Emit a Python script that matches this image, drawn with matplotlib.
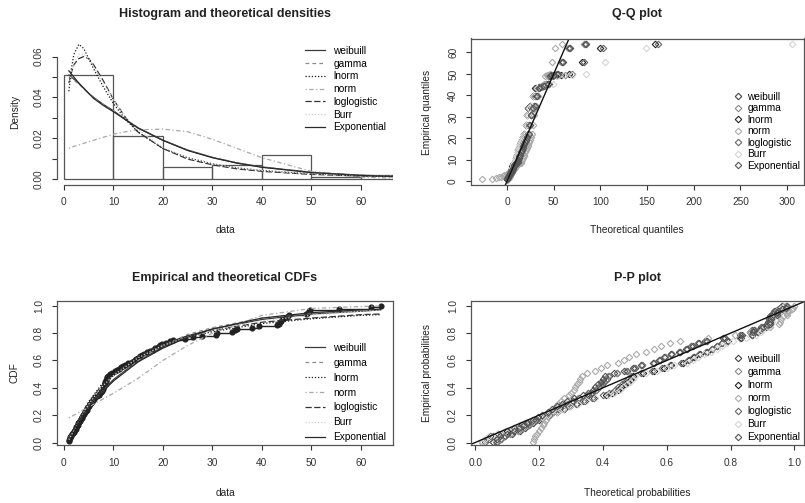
import numpy as np
import matplotlib.pyplot as plt
from matplotlib.lines import Line2D

plt.rcParams['font.family'] = ['Liberation Sans', 'DejaVu Sans']

W, H = 805, 503

data = [1.0, 1.1, 1.2, 1.3, 1.4, 1.6, 1.8, 2.0, 2.2, 2.4,
        2.5, 2.7, 2.8, 2.9, 3.0, 3.2, 3.4, 3.6, 3.7, 3.9,
        4.0, 4.2, 4.4, 4.6, 4.7, 4.9, 5.0, 5.2, 5.4, 5.6,
        5.8, 6.0, 6.3, 6.6, 7.0, 7.2, 7.4, 7.6, 7.8, 7.9,
        8.0, 8.2, 8.3, 8.4, 8.5, 8.6, 8.7, 8.8, 8.9, 9.3,
        9.7, 10.3, 10.7, 11.2, 11.6, 12.0, 12.4, 13.0, 13.8, 14.3,
        14.6, 14.9, 15.3, 15.8, 16.2, 16.8, 17.4, 18.0, 18.5, 19.0,
        19.4, 19.8, 20.6, 21.4, 22.0, 24.5, 26.0, 28.0, 30.8, 31.0,
        34.0, 34.5, 35.0, 38.0, 39.5, 43.0, 43.4, 43.6, 43.8, 44.0,
        44.5, 45.0, 45.5, 49.0, 49.3, 49.5, 49.8, 55.5, 62.0, 64.0]
hist_breaks = [0, 10, 20, 30, 40, 50, 60, 70]

dist_names = ["weibuill", "gamma", "lnorm", "norm", "loglogistic", "Burr", "Exponential"]
line_colors = ["#3a3a3a", "#8c8c8c", "#1a1a1a", "#a8a8a8", "#333333", "#cfcfcf", "#2a2a2a"]
point_colors = ["#444444", "#8a8a8a", "#222222", "#aaaaaa", "#666666", "#d4d4d4", "#555555"]
line_dashes = [None, (3, 2.5), (1, 1.5), (1, 2, 3.5, 2), (5, 2), (1, 1.5), None]

# density curves
dens_x = [1, 1.5, 2, 3, 4, 5, 6, 8, 10, 12.5, 15, 20, 25, 30, 35, 40, 50, 60, 66.5]
dens_weibull = [0.051, 0.050, 0.049, 0.047, 0.0445, 0.042, 0.040, 0.0365, 0.0335, 0.029, 0.025, 0.019,
                0.0142, 0.0106, 0.0079, 0.0059, 0.0033, 0.0019, 0.0014]
dens_gamma = [0.050, 0.0495, 0.0485, 0.0465, 0.0443, 0.042, 0.040, 0.0365, 0.0335, 0.0292, 0.0252, 0.0191,
              0.0143, 0.0107, 0.008, 0.006, 0.0034, 0.0019, 0.0014]
dens_lnorm = [0.043, 0.054, 0.061, 0.066, 0.064, 0.059, 0.054, 0.045, 0.037, 0.029, 0.023, 0.015,
              0.0105, 0.0075, 0.0055, 0.0042, 0.0026, 0.0016, 0.0012]
dens_norm = [0.015, 0.0155, 0.016, 0.0167, 0.0175, 0.0183, 0.019, 0.0205, 0.022, 0.0232, 0.0241, 0.0245,
             0.0232, 0.0195, 0.015, 0.0105, 0.0038, 0.001, 0.0004]
dens_llogis = [0.047, 0.052, 0.056, 0.059, 0.060, 0.059, 0.056, 0.048, 0.039, 0.030, 0.023, 0.015,
               0.0098, 0.007, 0.005, 0.0038, 0.0023, 0.0015, 0.0012]
dens_burr = [0.045, 0.052, 0.057, 0.061, 0.061, 0.059, 0.055, 0.047, 0.039, 0.030, 0.024, 0.0155,
             0.0105, 0.0075, 0.0055, 0.0042, 0.0026, 0.0017, 0.0014]
dens_exp = [0.053, 0.0515, 0.050, 0.047, 0.0445, 0.042, 0.0395, 0.036, 0.033, 0.029, 0.025, 0.019,
            0.014, 0.0105, 0.0078, 0.0058, 0.0032, 0.0018, 0.0013]

# theoretical CDFs
cdf_x = [1, 2, 3, 5, 7.5, 10, 15, 20, 25, 30, 40, 50, 60, 64]
cdf_weibull = [0.03, 0.10, 0.16, 0.27, 0.37, 0.46, 0.60, 0.70, 0.78, 0.83, 0.90, 0.94, 0.96, 0.97]
cdf_gamma = [0.04, 0.10, 0.16, 0.26, 0.36, 0.45, 0.60, 0.71, 0.79, 0.84, 0.91, 0.945, 0.965, 0.97]
cdf_lnorm = [0.02, 0.10, 0.17, 0.30, 0.42, 0.51, 0.63, 0.71, 0.77, 0.81, 0.87, 0.905, 0.93, 0.935]
cdf_norm = [0.18, 0.20, 0.22, 0.26, 0.31, 0.36, 0.47, 0.60, 0.71, 0.80, 0.93, 0.98, 0.995, 0.998]
cdf_llogis = [0.03, 0.10, 0.17, 0.29, 0.41, 0.50, 0.63, 0.72, 0.78, 0.82, 0.88, 0.91, 0.935, 0.94]
cdf_burr = [0.02, 0.09, 0.16, 0.28, 0.40, 0.49, 0.62, 0.71, 0.77, 0.82, 0.89, 0.93, 0.96, 0.97]
cdf_exp = [0.05, 0.10, 0.16, 0.26, 0.36, 0.45, 0.59, 0.69, 0.77, 0.83, 0.91, 0.95, 0.97, 0.975]

# Q-Q plot: empirical quantiles and the matching theoretical ones
qq_emp = [1.0, 1.2, 1.4, 1.8, 2.2, 2.5, 2.8, 3.0, 3.4, 3.7, 4.0, 4.4, 4.7, 5.0, 5.4, 5.8, 6.3, 7.0,
          7.4, 7.8, 8.0, 8.3, 8.5, 8.7, 8.9, 9.7, 10.7, 11.6, 12.4, 13.8, 14.6, 15.3, 16.2, 17.4,
          18.5, 19.4, 20.6, 22.0, 26.0, 30.8, 34.0, 35.0, 39.5, 43.4, 43.8, 44.5, 45.5, 49.0, 49.3,
          49.5, 49.8, 55.5, 62.0, 64.0]
qq_weibull = [0.15, 0.55, 1.0, 1.4, 1.8, 2.2, 2.6, 3.0, 3.4, 3.8, 4.2, 4.65, 5.1, 5.55, 6.0, 6.45, 6.9,
              7.4, 7.9, 8.45, 9.0, 9.55, 10.1, 10.75, 11.4, 12.0, 12.7, 13.45, 14.2, 14.95, 15.7, 16.55,
              17.4, 18.35, 19.3, 20.35, 21.4, 22.6, 23.9, 25.3, 26.9, 28.6, 30.6, 32.8, 35.4, 38.5,
              42.2, 44.5, 46.8, 49.0, 53.5, 59.0, 66.0, 84.0]
qq_gamma = [0.2, 0.6, 1.1, 1.5, 1.9, 2.3, 2.7, 3.1, 3.5, 3.9, 4.3, 4.75, 5.2, 5.6, 6.0, 6.5, 7.0, 7.5,
            8.0, 8.5, 9.0, 9.6, 10.2, 10.8, 11.4, 12.1, 12.8, 13.5, 14.2, 14.95, 15.7, 16.55, 17.4,
            18.35, 19.3, 20.35, 21.4, 22.6, 23.9, 25.3, 26.8, 28.5, 30.4, 32.5, 35.0, 38.0, 41.5, 43.8,
            46.2, 48.5, 52.5, 58.0, 65.5, 82.0]
qq_lnorm = [0.53, 1.0, 1.4, 1.7, 2.0, 2.25, 2.5, 2.8, 3.1, 3.4, 3.7, 3.95, 4.2, 4.5, 4.8, 5.15, 5.5,
            5.85, 6.2, 6.55, 6.9, 7.35, 7.8, 8.2, 8.6, 9.15, 9.7, 10.25, 10.8, 11.45, 12.1, 12.85, 13.6,
            14.45, 15.3, 16.4, 17.5, 18.7, 20.0, 21.4, 23.0, 25.1, 27.5, 30.5, 34.0, 38.5, 44.0, 47.5,
            52.0, 58.0, 66.0, 80.0, 100.0, 158.0]
qq_norm = [-26.5, -16.3, -12.0, -9.0, -6.6, -4.7, -3.0, -1.5, 0.0, 1.2, 2.5, 3.5, 4.6, 5.6, 6.6, 7.6,
           8.5, 9.4, 10.3, 11.2, 12.0, 12.9, 13.7, 14.5, 15.3, 16.2, 17.0, 17.9, 18.6, 19.5, 20.5, 21.3,
           22.1, 23.0, 23.9, 24.9, 25.9, 26.9, 27.9, 29.0, 30.2, 31.4, 32.7, 34.2, 35.8, 37.6, 39.8,
           41.0, 42.4, 44.0, 45.9, 48.3, 51.8, 58.5]
qq_llogis = [0.35, 0.8, 1.3, 1.65, 2.0, 2.3, 2.6, 2.9, 3.2, 3.5, 3.8, 4.1, 4.4, 4.7, 5.0, 5.35, 5.7,
             6.05, 6.4, 6.75, 7.1, 7.5, 7.9, 8.35, 8.8, 9.3, 9.8, 10.35, 10.9, 11.5, 12.1, 12.8, 13.5,
             14.3, 15.2, 16.2, 17.3, 18.5, 19.9, 21.4, 23.0, 25.1, 27.6, 30.6, 34.5, 39.0, 45.0, 49.5,
             55.0, 62.0, 70.0, 82.0, 103.0, 162.0]
qq_burr = [0.6, 1.1, 1.5, 1.8, 2.1, 2.4, 2.7, 3.0, 3.3, 3.6, 3.9, 4.2, 4.5, 4.8, 5.1, 5.4, 5.7, 6.05,
           6.4, 6.75, 7.1, 7.5, 7.9, 8.3, 8.7, 9.2, 9.7, 10.25, 10.8, 11.4, 12.0, 12.7, 13.4, 14.2,
           15.1, 16.1, 17.2, 18.5, 19.9, 21.5, 23.4, 25.7, 28.3, 31.8, 36.0, 41.5, 49.0, 54.0, 61.0,
           70.0, 85.0, 105.0, 149.0, 305.0]
qq_exp = [0.09, 0.43, 0.8, 1.14, 1.5, 1.88, 2.3, 2.66, 3.1, 3.47, 3.9, 4.33, 4.8, 5.2, 5.7, 6.2, 6.7,
          7.2, 7.7, 8.26, 8.8, 9.4, 10.0, 10.6, 11.3, 11.95, 12.7, 13.4, 14.2, 15.0, 15.8, 16.7, 17.6,
          18.6, 19.6, 20.7, 21.9, 23.2, 24.6, 26.1, 27.8, 29.6, 31.7, 34.0, 36.8, 40.0, 44.0, 45.8,
          47.5, 50.0, 55.0, 60.0, 67.0, 85.0]

# P-P plot: empirical probabilities and theoretical ones
pp_emp = [0.005, 0.025, 0.045, 0.065, 0.085, 0.105, 0.125, 0.145, 0.165, 0.185, 0.205, 0.225, 0.245,
          0.265, 0.285, 0.305, 0.325, 0.345, 0.365, 0.385, 0.405, 0.425, 0.445, 0.465, 0.485, 0.505,
          0.525, 0.545, 0.565, 0.585, 0.605, 0.625, 0.645, 0.665, 0.685, 0.705, 0.725, 0.745, 0.765,
          0.785, 0.805, 0.825, 0.845, 0.865, 0.885, 0.905, 0.925, 0.935, 0.945, 0.955, 0.965, 0.975,
          0.985, 0.995]
pp_weibull = [0.07, 0.082, 0.095, 0.115, 0.14, 0.155, 0.17, 0.18, 0.2, 0.214, 0.228, 0.245, 0.26, 0.272,
              0.29, 0.305, 0.326, 0.352, 0.367, 0.38, 0.388, 0.398, 0.405, 0.413, 0.419, 0.445, 0.475,
              0.5, 0.523, 0.56, 0.578, 0.594, 0.614, 0.64, 0.66, 0.677, 0.697, 0.72, 0.775, 0.83, 0.86,
              0.866, 0.895, 0.914, 0.916, 0.919, 0.924, 0.938, 0.939, 0.94, 0.941, 0.957, 0.97, 0.973]
pp_gamma = [0.065, 0.077, 0.09, 0.11, 0.135, 0.15, 0.165, 0.175, 0.195, 0.21, 0.224, 0.241, 0.256, 0.268,
            0.287, 0.302, 0.323, 0.349, 0.364, 0.377, 0.385, 0.395, 0.402, 0.41, 0.416, 0.443, 0.473,
            0.499, 0.522, 0.559, 0.578, 0.595, 0.615, 0.642, 0.662, 0.679, 0.699, 0.723, 0.778, 0.834,
            0.864, 0.870, 0.898, 0.918, 0.92, 0.923, 0.927, 0.940, 0.941, 0.942, 0.943, 0.959, 0.971,
            0.975]
pp_lnorm = [0.023, 0.033, 0.045, 0.071, 0.10, 0.122, 0.144, 0.158, 0.188, 0.209, 0.23, 0.257, 0.277,
            0.296, 0.32, 0.344, 0.372, 0.409, 0.43, 0.447, 0.456, 0.47, 0.478, 0.487, 0.495, 0.526, 0.56,
            0.59, 0.614, 0.65, 0.67, 0.684, 0.703, 0.725, 0.743, 0.757, 0.773, 0.791, 0.832, 0.868,
            0.886, 0.891, 0.912, 0.923, 0.924, 0.926, 0.929, 0.938, 0.938, 0.939, 0.94, 0.951, 0.96,
            0.962]
pp_norm = [0.182, 0.185, 0.188, 0.195, 0.20, 0.207, 0.212, 0.215, 0.222, 0.228, 0.234, 0.241, 0.247,
           0.252, 0.26, 0.268, 0.278, 0.293, 0.301, 0.31, 0.314, 0.32, 0.325, 0.329, 0.334, 0.351, 0.374,
           0.395, 0.414, 0.447, 0.466, 0.483, 0.505, 0.534, 0.56, 0.582, 0.61, 0.642, 0.728, 0.815,
           0.862, 0.875, 0.923, 0.952, 0.954, 0.958, 0.963, 0.977, 0.978, 0.979, 0.98, 0.992, 0.997,
           0.998]
pp_llogis = [0.03, 0.042, 0.055, 0.08, 0.11, 0.13, 0.15, 0.165, 0.19, 0.21, 0.23, 0.255, 0.275, 0.293,
             0.315, 0.338, 0.365, 0.402, 0.42, 0.437, 0.447, 0.46, 0.47, 0.479, 0.487, 0.518, 0.555,
             0.585, 0.61, 0.646, 0.667, 0.681, 0.70, 0.722, 0.742, 0.756, 0.772, 0.79, 0.83, 0.866,
             0.883, 0.888, 0.908, 0.918, 0.919, 0.921, 0.924, 0.933, 0.934, 0.935, 0.936, 0.948, 0.958,
             0.96]
pp_burr = [0.02, 0.03, 0.042, 0.068, 0.095, 0.117, 0.14, 0.155, 0.185, 0.208, 0.228, 0.256, 0.276, 0.297,
           0.322, 0.348, 0.376, 0.415, 0.436, 0.453, 0.463, 0.476, 0.485, 0.494, 0.502, 0.535, 0.57,
           0.601, 0.624, 0.662, 0.682, 0.697, 0.716, 0.739, 0.757, 0.772, 0.788, 0.807, 0.847, 0.88,
           0.895, 0.9, 0.917, 0.927, 0.929, 0.931, 0.934, 0.942, 0.943, 0.944, 0.945, 0.955, 0.964, 0.966]
pp_exp = [0.057, 0.068, 0.079, 0.100, 0.121, 0.137, 0.152, 0.162, 0.181, 0.196, 0.210, 0.228, 0.242,
          0.255, 0.272, 0.289, 0.310, 0.338, 0.353, 0.368, 0.375, 0.386, 0.393, 0.401, 0.408, 0.435,
          0.467, 0.495, 0.518, 0.556, 0.576, 0.593, 0.614, 0.641, 0.663, 0.681, 0.702, 0.726, 0.783,
          0.837, 0.869, 0.872, 0.902, 0.922, 0.924, 0.927, 0.931, 0.944, 0.945, 0.946, 0.947, 0.962,
          0.974, 0.977]

dens_all = [dens_weibull, dens_gamma, dens_lnorm, dens_norm, dens_llogis, dens_burr, dens_exp]
cdf_all = [cdf_weibull, cdf_gamma, cdf_lnorm, cdf_norm, cdf_llogis, cdf_burr, cdf_exp]
qq_all = [qq_weibull, qq_gamma, qq_lnorm, qq_norm, qq_llogis, qq_burr, qq_exp]
pp_all = [pp_weibull, pp_gamma, pp_lnorm, pp_norm, pp_llogis, pp_burr, pp_exp]

FS = 7.3
fig = plt.figure(figsize=(W / 100, H / 100), dpi=100)


def add_ax(x0, y0, x1, y1):
    return fig.add_axes([x0 / W, 1 - y1 / H, (x1 - x0) / W, (y1 - y0) / H])


def style(ax, box=True):
    ax.tick_params(direction='out', length=3.8, width=0.8, colors='#333333',
                   labelsize=FS, pad=5.5)
    ax.tick_params(axis='y', labelrotation=90)
    for lbl in ax.get_yticklabels():
        lbl.set_va('center')
    for s in ax.spines.values():
        s.set_color('#555555')
        s.set_linewidth(0.9)
    if not box:
        ax.spines['top'].set_visible(False)
        ax.spines['right'].set_visible(False)


def ftext(x, y, s, size=FS, **kw):
    fig.text(x / W, 1 - y / H, s, ha='center', va='center', fontsize=size, color='#222222', **kw)


def line_style(i):
    kw = dict(color=line_colors[i], lw=0.9)
    if line_dashes[i] is not None:
        kw['dashes'] = line_dashes[i]
    return kw


def marker_handles():
    return [Line2D([], [], ls='none', marker='D', ms=3.3, mfc='none', mec=point_colors[i], mew=0.8)
            for i in range(7)]


# ---------------- histogram and densities ----------------
ax1 = add_ax(57, 39, 393, 184.5)
ax1.hist(data, bins=hist_breaks, density=True, fill=False, edgecolor='#555555', lw=0.9)
for i in range(7):
    ax1.plot(dens_x, dens_all[i], **line_style(i))
ax1.set_xlim(-1.4, 66.5)
ax1.set_ylim(-0.00264, 0.0686)
ax1.set_xticks([0, 10, 20, 30, 40, 50, 60])
ax1.set_yticks([0, 0.01, 0.02, 0.03, 0.04, 0.05, 0.06])
ax1.set_yticklabels(['0.00', '', '0.02', '', '0.04', '', '0.06'])
style(ax1, box=False)
ax1.spines['bottom'].set_bounds(0, 60)
ax1.spines['left'].set_bounds(0, 0.06)
handles = [Line2D([], [], **line_style(i)) for i in range(7)]
ax1.legend(handles, dist_names, loc='upper left', bbox_to_anchor=(305 / W, 1 - 46 / H),
           bbox_transform=fig.transFigure, frameon=False, fontsize=FS, borderpad=0,
           borderaxespad=0, handlelength=2.0, handletextpad=0.8, labelspacing=0.27)
ftext(225, 14.5, "Histogram and theoretical densities", size=9, fontweight='bold')
ftext(15, 112, "Density", rotation=90)
ftext(225, 230, "data")

# ---------------- Q-Q plot ----------------
ax2 = add_ax(471, 38.5, 804, 184.5)
for i in range(7):
    ax2.plot(qq_all[i], qq_emp, 'D', ms=3.3, mfc='none', mec=point_colors[i], mew=0.8)
ax2.axline((0, 0), (1, 1), color='#111111', lw=1.0)
ax2.set_xlim(-38.5, 318)
ax2.set_ylim(-1.5, 66.5)
ax2.set_xticks([0, 50, 100, 150, 200, 250, 300])
ax2.set_yticks([0, 10, 20, 30, 40, 50, 60])
style(ax2)
ax2.legend(marker_handles(), dist_names, loc='upper left', bbox_to_anchor=(733 / W, 1 - 92 / H),
           bbox_transform=fig.transFigure, frameon=False, fontsize=FS, borderpad=0,
           borderaxespad=0, handlelength=1.0, handletextpad=0.4, labelspacing=0.14)
ftext(637, 14.5, "Q-Q plot", size=9, fontweight='bold')
ftext(427, 112, "Empirical quantiles", rotation=90)
ftext(637, 230, "Theoretical quantiles")

# ---------------- empirical and theoretical CDFs ----------------
ax3 = add_ax(57, 301, 393, 445)
ecdf_y = np.arange(1, len(data) + 1) / len(data)
ax3.hlines(ecdf_y[:-1], data[:-1], data[1:], color='#222222', lw=1.0)
ax3.plot(data, ecdf_y, 'o', ms=3.4, color='#222222')
for i in range(7):
    ax3.plot(cdf_x, cdf_all[i], **line_style(i))
ax3.set_xlim(-1.4, 66.5)
ax3.set_ylim(-0.018, 1.035)
ax3.set_xticks([0, 10, 20, 30, 40, 50, 60])
ax3.set_yticks([0, 0.2, 0.4, 0.6, 0.8, 1.0])
ax3.set_yticklabels(['0.0', '0.2', '0.4', '0.6', '0.8', '1.0'])
style(ax3)
handles = [Line2D([], [], **line_style(i)) for i in range(7)]
ax3.legend(handles, dist_names, loc='upper left', bbox_to_anchor=(305 / W, 1 - 343 / H),
           bbox_transform=fig.transFigure, frameon=False, fontsize=FS, borderpad=0,
           borderaxespad=0, handlelength=2.0, handletextpad=0.8, labelspacing=0.48)
ftext(225, 278, "Empirical and theoretical CDFs", size=9, fontweight='bold')
ftext(15, 373, "CDF", rotation=90)
ftext(225, 493, "data")

# ---------------- P-P plot ----------------
ax4 = add_ax(471, 301, 804, 445)
for i in range(7):
    ax4.plot(pp_all[i], pp_emp, 'D', ms=3.3, mfc='none', mec=point_colors[i], mew=0.8)
ax4.axline((0, 0), (1, 1), color='#111111', lw=1.0)
ax4.set_xlim(-0.013, 1.03)
ax4.set_ylim(-0.018, 1.035)
ax4.set_xticks([0, 0.2, 0.4, 0.6, 0.8, 1.0])
ax4.set_xticklabels(['0.0', '0.2', '0.4', '0.6', '0.8', '1.0'])
ax4.set_yticks([0, 0.2, 0.4, 0.6, 0.8, 1.0])
ax4.set_yticklabels(['0.0', '0.2', '0.4', '0.6', '0.8', '1.0'])
style(ax4)
ax4.legend(marker_handles(), dist_names, loc='upper left', bbox_to_anchor=(733 / W, 1 - 354 / H),
           bbox_transform=fig.transFigure, frameon=False, fontsize=FS, borderpad=0,
           borderaxespad=0, handlelength=1.0, handletextpad=0.4, labelspacing=0.3)
ftext(637, 278, "P-P plot", size=9, fontweight='bold')
ftext(427, 373, "Empirical probabilities", rotation=90)
ftext(637, 493, "Theoretical probabilities")

fig.savefig("out.png", dpi=100)
